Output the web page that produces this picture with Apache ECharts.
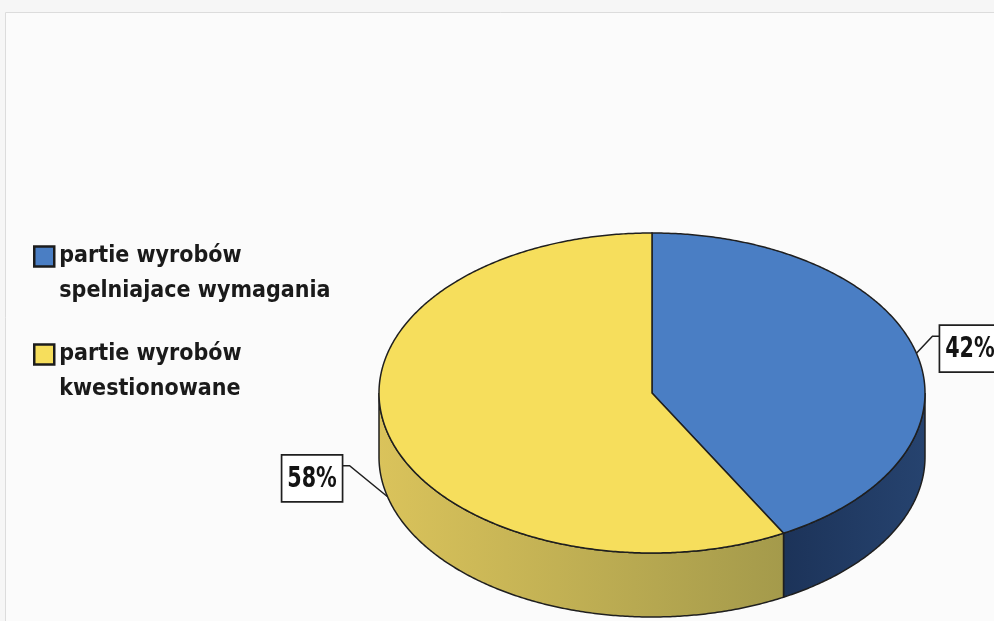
<!DOCTYPE html>
<html>
<head>
<meta charset="utf-8">
<script src="https://cdn.jsdelivr.net/npm/echarts@6/dist/echarts.min.js"></script>
<style>
  html, body { margin: 0; padding: 0; background: #f6f6f6; }
  #chart { width: 994px; height: 621px; }
</style>
</head>
<body>
<div id="chart"></div>
<script>
// Categories and their shares (percent)
const categories = ['partie wyrobów\nspelniajace wymagania', 'partie wyrobów\nkwestionowane'];
const shares = [42, 58];

// Colours: top faces, side walls (light end, dark end)
const topColors = ['#4A7EC4', '#F6DE5C'];
const sideColors = [['#26436F', '#1C3359'], ['#DAC35B', '#A49A4B']];
const outline = '#1f1f1f';
const fontFamily = '"Liberation Sans Narrow", "DejaVu Sans Condensed", "Open Sans", sans-serif';

// Projected disc: top ellipse centre, radii, wall height
const disc = { cx: 652, cy: 393, rx: 273, ry: 160, depth: 64 };

// Leader lines: anchor on the rim (or wall bottom), elbow offset, box side
const labelLayout = [
  { onWall: false, elbow: [16, -17], side: 'right' },
  { onWall: true, elbow: [-38, -31], side: 'left' }
];

const total = shares.reduce((a, b) => a + b, 0);

function pt(theta, dy) {
  return [disc.cx + disc.rx * Math.sin(theta), disc.cy - disc.ry * Math.cos(theta) + dy];
}
function arc(a0, a1, dy) {
  const n = Math.max(2, Math.ceil((a1 - a0) / (Math.PI / 360)));
  const pts = [];
  for (let k = 0; k <= n; k++) pts.push(pt(a0 + (a1 - a0) * k / n, dy));
  return pts;
}

function renderSlice(i, value) {
  let before = 0;
  for (let k = 0; k < i; k++) before += shares[k];
  const a0 = before / total * Math.PI * 2;
  const a1 = (before + value) / total * Math.PI * 2;
  const children = [];

  // visible front wall: angles between 90° and 270° (clockwise from top)
  const s0 = Math.max(a0, Math.PI / 2);
  const s1 = Math.min(a1, Math.PI * 3 / 2);
  if (s0 < s1) {
    const upper = arc(s0, s1, 0);
    const lower = arc(s0, s1, disc.depth).reverse();
    const light = sideColors[i][0], dark = sideColors[i][1];
    children.push({
      type: 'polygon',
      z2: 1,
      shape: { points: upper.concat(lower) },
      style: {
        fill: new echarts.graphic.LinearGradient(i === 0 ? 1 : 0, 0, i === 0 ? 0 : 1, 0, [
          { offset: 0, color: light }, { offset: 1, color: dark }
        ]),
        stroke: outline, lineWidth: 1.5
      }
    });
  }

  // top face
  children.push({
    type: 'polygon',
    z2: 10,
    shape: { points: [[disc.cx, disc.cy]].concat(arc(a0, a1, 0)) },
    style: { fill: topColors[i], stroke: outline, lineWidth: 1.5 }
  });

  // percentage label with leader line
  const lay = labelLayout[i];
  const mid = (a0 + a1) / 2;
  const anchor = pt(mid, lay.onWall ? disc.depth : 0);
  const elbow = [anchor[0] + lay.elbow[0], anchor[1] + lay.elbow[1]];
  const boxW = 61, boxH = 47;
  const attach = [elbow[0] + (lay.side === 'right' ? 7 : -7), elbow[1]];
  const boxX = lay.side === 'right' ? attach[0] : attach[0] - boxW;
  const boxY = attach[1] - 11;
  children.push({
    type: 'polyline', z2: 20,
    shape: { points: [anchor, elbow, attach] },
    style: { stroke: outline, lineWidth: 1.5, fill: null }
  });
  children.push({
    type: 'rect', z2: 20,
    shape: { x: boxX, y: boxY, width: boxW, height: boxH },
    style: { fill: '#ffffff', stroke: outline, lineWidth: 1.7 }
  });
  children.push({
    type: 'text', z2: 21,
    x: boxX + boxW / 2, y: boxY + boxH / 2 + 1,
    scaleY: 1.25,
    style: {
      text: Math.round(value / total * 100) + '%',
      x: 0, y: 0,
      align: 'center', verticalAlign: 'middle',
      font: 'bold 23px ' + fontFamily, fill: '#141414'
    }
  });

  return { type: 'group', children };
}

const chart = echarts.init(document.getElementById('chart'), null, { renderer: 'canvas' });
chart.setOption({
  animation: false,
  backgroundColor: '#f6f6f6',
  graphic: [{
    type: 'rect', z: -10, silent: true,
    shape: { x: 5.5, y: 12.5, width: 1000, height: 620 },
    style: { fill: '#fbfbfb', stroke: '#dcdcdc', lineWidth: 1 }
  }],
  legend: {
    orient: 'vertical', left: 33, top: 204, padding: 0,
    itemWidth: 20, itemHeight: 20, itemGap: -7,
    icon: 'rect', selectedMode: false,
    itemStyle: { borderColor: '#1c1c1c', borderWidth: 2.5 },
    // leading blank line keeps the first text line level with the swatch
    formatter: name => '\n' + name,
    textStyle: {
      fontFamily, fontWeight: 'bold', fontSize: 23, lineHeight: 35,
      color: '#1a1a1a'
    },
    data: categories
  },
  series: categories.map((name, i) => ({
    type: 'custom', name, coordinateSystem: 'none', silent: true,
    itemStyle: { color: topColors[i] },
    data: [[shares[i]]],
    renderItem: (params, api) => renderSlice(i, api.value(0))
  }))
});
</script>
</body>
</html>
